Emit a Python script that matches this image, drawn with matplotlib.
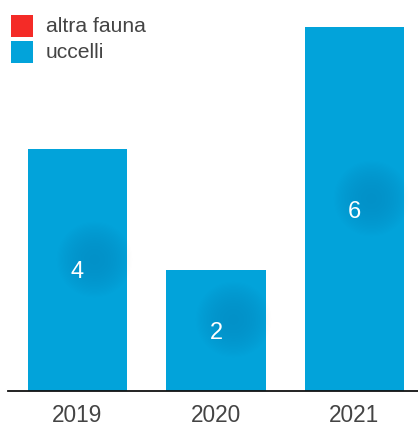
import matplotlib
matplotlib.use("Agg")
import matplotlib.pyplot as plt
from matplotlib.patches import Rectangle
from matplotlib import transforms
import numpy as np

plt.rcParams['font.family'] = ['Liberation Sans', 'DejaVu Sans']

years = ["2019", "2020", "2021"]
uccelli = [4, 2, 6]
altra_fauna = [0, 0, 0]
series_names = ["altra fauna", "uccelli"]
series_colors = ["#f42b27", "#02a3da"]

W, H = 418, 425
fig = plt.figure(figsize=(W / 100, H / 100), dpi=100)
ax = fig.add_axes([8.25 / W, 34 / H, 415.5 / W, 391 / H])

x = np.arange(len(years))
bw = 0.715
ax.bar(x, uccelli, width=bw, color=series_colors[1], zorder=2)
ax.bar(x, altra_fauna, width=bw, bottom=uccelli, color=series_colors[0], zorder=2)

# value labels with a soft dark halo, offset up-right
for xi, v in zip(x, uccelli):
    if v <= 0:
        continue
    yc = v / 2
    tr = transforms.offset_copy(ax.transData, fig=fig, x=12, y=8, units='points')
    for s in np.linspace(3000, 60, 18):
        ax.scatter([xi], [yc], s=s, color="#0a5f8c", alpha=0.004,
                   linewidths=0, transform=tr, zorder=3)
    ax.text(xi, yc, str(v), ha='center', va='center_baseline', color='white',
            fontsize=17, zorder=4)

ax.set_xlim(-0.5, 2.5)
ax.set_ylim(0, 391 / 60.6)
ax.set_xticks(x)
ax.set_xticklabels(years, fontsize=16.3, color='#444444')
ax.tick_params(axis='x', length=0, pad=9)
ax.set_yticks([])
for side in ['left', 'right', 'top']:
    ax.spines[side].set_visible(False)
ax.spines['bottom'].set_color('#111111')
ax.spines['bottom'].set_linewidth(1.3)
ax.spines['bottom'].set_zorder(5)

# legend
for i, (name, col) in enumerate(zip(series_names, series_colors)):
    y0 = H - 37 - i * 26
    fig.add_artist(Rectangle((11 / W, y0 / H), 22 / W, 22 / H,
                             transform=fig.transFigure, color=col, lw=0))
    fig.text(46 / W, (y0 + 11) / H, name, ha='left', va='center',
             fontsize=15.2, color='#444444')

fig.savefig("out.png", dpi=100)
